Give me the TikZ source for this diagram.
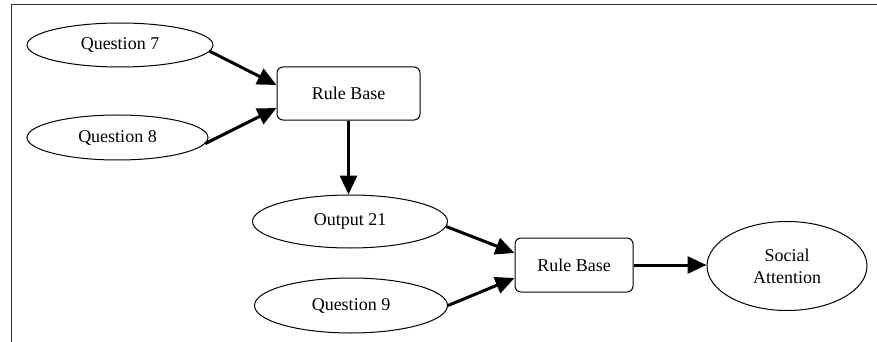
\documentclass[tikz,border=0pt]{standalone}
\usepackage{fontspec}
\setmainfont{Liberation Serif}
\usetikzlibrary{arrows.meta,shapes.geometric}
\begin{document}
\begin{tikzpicture}[x=1pt,y=-1pt,
  lbl/.style={font=\fontsize{18}{22}\selectfont},
  oval/.style={draw, ellipse, line width=1pt, inner sep=0pt, lbl},
  rulebox/.style={draw, rectangle, rounded corners=6pt, line width=1pt, inner sep=0pt, lbl},
  conn/.style={line width=3pt, -{Triangle[length=19pt,width=17pt]}}]
\useasboundingbox (0,0) rectangle (877,342);
\draw[line width=1pt, black!80] (11,342) -- (11,5) -- (877,5);

\node[oval, minimum width=186pt, minimum height=44pt] (q7) at (120,45) {Question 7};
\node[oval, minimum width=181pt, minimum height=45pt] (q8) at (117.5,137.5) {Question 8};
\node[rulebox, minimum width=143pt, minimum height=53pt] (rb1) at (348.5,93.5) {Rule Base};
\node[oval, minimum width=195pt, minimum height=53pt] (o21) at (350,221.5) {Output 21};
\node[oval, minimum width=193pt, minimum height=55pt] (q9) at (351,305.5) {Question 9};
\node[rulebox, minimum width=118pt, minimum height=54pt] (rb2) at (574,265) {Rule Base};
\node[oval, minimum width=160pt, minimum height=89pt, align=center] (sa) at (787,266) {Social\\Attention};

\draw[conn] (q7.-4) -- ([yshift=8.5pt]rb1.west);
\draw[conn] (q8.-4) -- ([yshift=-14.5pt]rb1.west);
\draw[conn] (rb1.south) -- (rb1.south |- o21.north);
\draw[conn] (o21.-3) -- ([yshift=12pt]rb2.west);
\draw[conn] (q9.east) -- ([yshift=-13pt]rb2.west);
\draw[conn] (rb2.east) -- (rb2.east -| sa.west);
\end{tikzpicture}
\end{document}
